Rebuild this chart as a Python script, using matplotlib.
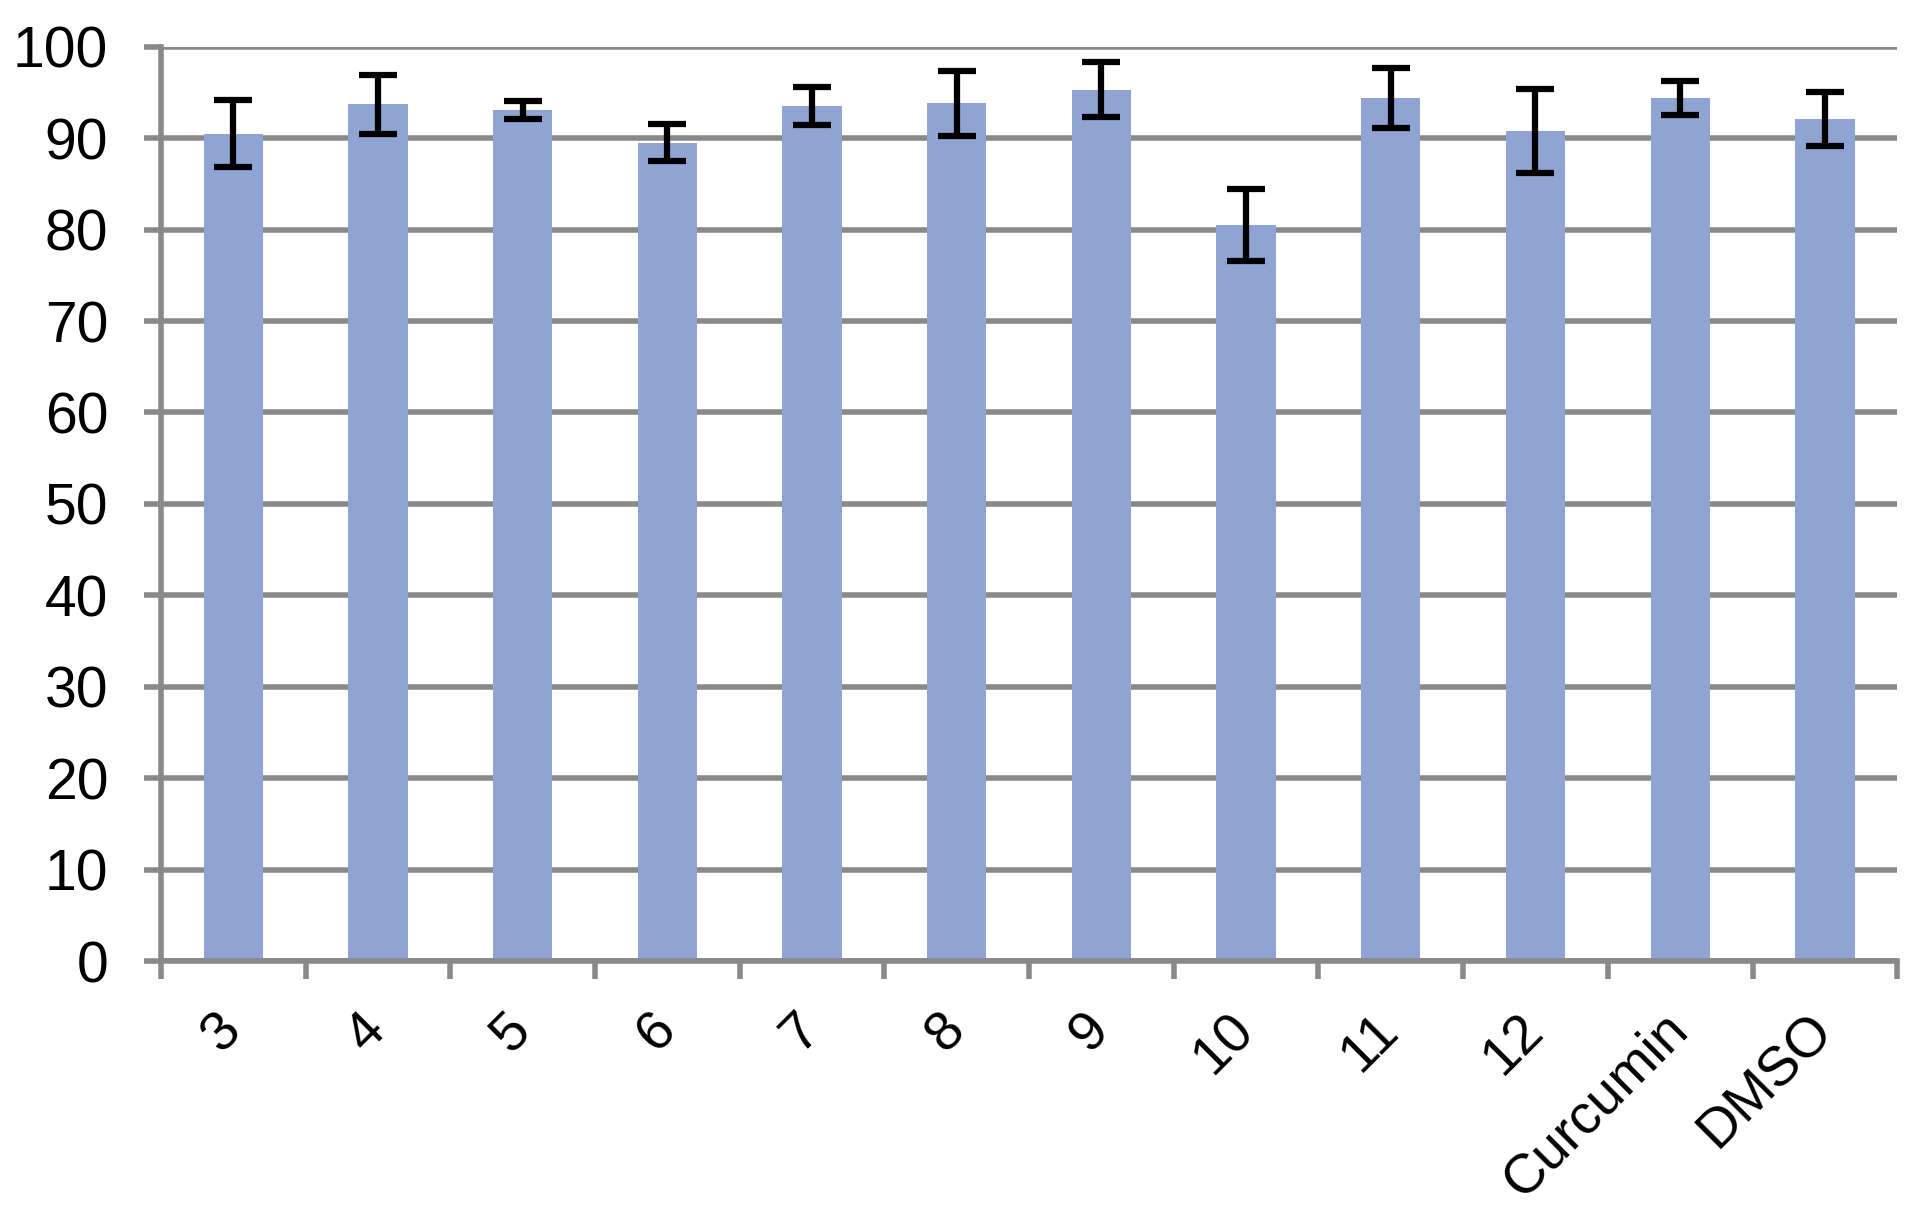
import matplotlib.pyplot as plt
import numpy as np

plt.rcParams['font.family'] = ['Liberation Sans', 'DejaVu Sans']

categories = ['3', '4', '5', '6', '7', '8', '9', '10', '11', '12', 'Curcumin', 'DMSO']
values = [90.5, 93.7, 93.1, 89.5, 93.5, 93.8, 95.3, 80.5, 94.4, 90.8, 94.4, 92.1]
errors = [3.7, 3.2, 1.0, 2.0, 2.1, 3.6, 3.0, 3.9, 3.3, 4.6, 1.9, 2.9]

grid_col = '#898989'
bar_col = '#90A4D4'

fig = plt.figure(figsize=(19.3, 12.18), dpi=100)
ax = fig.add_axes([0.0834, 0.211, 0.983 - 0.0834, 0.9616 - 0.211])

x = np.arange(len(categories))
ax.bar(x, values, width=0.41, color=bar_col, zorder=2)
ax.errorbar(x, values, yerr=errors, fmt='none', ecolor='black',
            elinewidth=4.5, capsize=14, capthick=4.5, zorder=3)

ax.set_xlim(-0.5, len(categories) - 0.5)
ax.set_ylim(0, 100)
ax.set_yticks(np.arange(0, 101, 10))
ax.yaxis.grid(True, color=grid_col, linewidth=4, zorder=0)
ax.set_axisbelow(True)

for s in ['top', 'right']:
    ax.spines[s].set_visible(False)
for s in ['left', 'bottom']:
    ax.spines[s].set_color(grid_col)
    ax.spines[s].set_linewidth(4)

ax.tick_params(axis='y', colors=grid_col, length=12, width=4, labelsize=41,
               labelcolor='black', pad=26)

# category boundaries get the tick marks, labels sit at the centres
ax.set_xticks(np.arange(-0.5, len(categories), 1))
ax.set_xticklabels([])
ax.set_xticks(x, minor=True)
ax.set_xticklabels(categories, minor=True, rotation=45, ha='right', va='center',
                   rotation_mode='anchor')
ax.tick_params(axis='x', which='major', colors=grid_col, length=13, width=4)
ax.tick_params(axis='x', which='minor', length=0, labelsize=40, pad=44)

fig.savefig('out.png', dpi=100)
